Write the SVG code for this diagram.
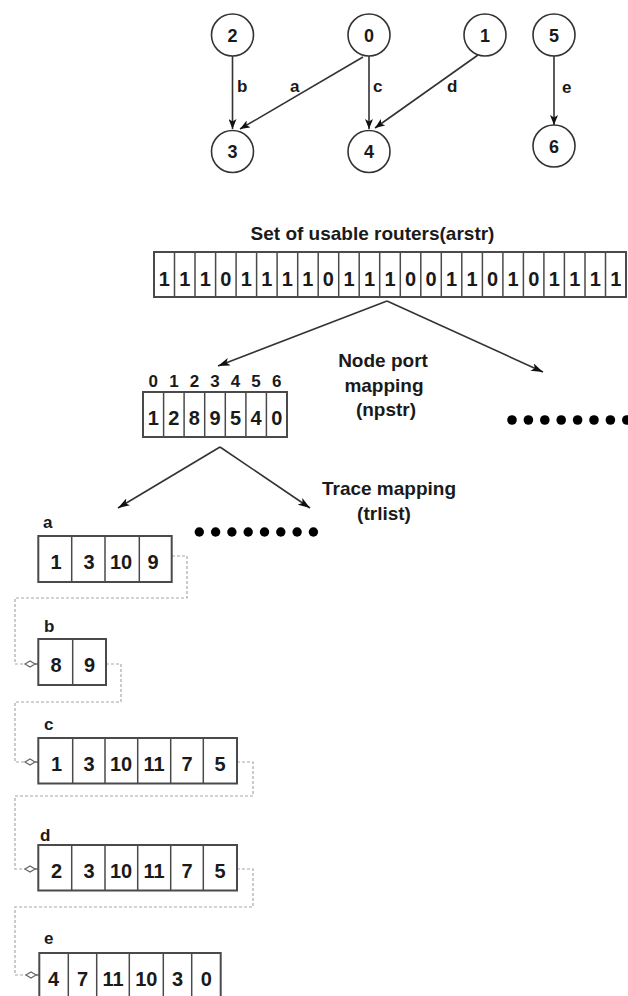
<svg xmlns="http://www.w3.org/2000/svg" width="628" height="996" viewBox="0 0 628 996">
<style>
.t{font-family:"Liberation Sans",Arial,Helvetica,sans-serif;font-weight:bold;fill:#1a1a1a}
.m{text-anchor:middle}
.nd{fill:#fff;stroke:#333;stroke-width:1.6}
.edge{fill:none;stroke:#333;stroke-width:1.6}
.box{fill:#fff;stroke:#4a4a4a;stroke-width:2}
.dv{stroke:#4a4a4a;stroke-width:1.5}
.dash{fill:none;stroke:#a8a8a8;stroke-width:1.2;stroke-dasharray:3 2}
.dot{fill:#000}
</style>
<defs>
<marker id="ah" markerUnits="userSpaceOnUse" viewBox="0 0 10 8" markerWidth="10" markerHeight="8" refX="10" refY="4" orient="auto">
<path d="M0,0 L10,4 L0,8 L2.5,4 Z" fill="#111"/>
</marker>
<marker id="ah2" markerUnits="userSpaceOnUse" viewBox="0 0 12 8" markerWidth="12" markerHeight="8" refX="12" refY="4" orient="auto">
<path d="M0,0 L12,4 L0,8 L3,4 Z" fill="#111"/>
</marker>
<marker id="dm" markerUnits="userSpaceOnUse" viewBox="-1 -1 15 8" markerWidth="15" markerHeight="8" refX="13" refY="3" orient="auto" overflow="visible">
<path d="M10,3 H13" stroke="#666" stroke-width="1.2" fill="none"/>
<path d="M0,3 L5,0 L10,3 L5,6 Z" fill="#fff" stroke="#666" stroke-width="1.2"/>
</marker>
</defs>

<g id="connectors">
<line class="edge" x1="232.5" y1="56" x2="232.5" y2="129" marker-end="url(#ah)"/>
<line class="edge" x1="363" y1="57" x2="240" y2="129" marker-end="url(#ah)"/>
<line class="edge" x1="369" y1="56" x2="369" y2="129" marker-end="url(#ah)"/>
<line class="edge" x1="478" y1="55" x2="375" y2="128" marker-end="url(#ah)"/>
<line class="edge" x1="554" y1="56" x2="554" y2="125" marker-end="url(#ah)"/>
<line class="edge" x1="387" y1="301" x2="218" y2="366" marker-end="url(#ah2)"/>
<line class="edge" x1="387" y1="301" x2="543" y2="372" marker-end="url(#ah2)"/>
<line class="edge" x1="220" y1="447" x2="118" y2="508" marker-end="url(#ah2)"/>
<line class="edge" x1="220" y1="447" x2="310" y2="508" marker-end="url(#ah2)"/>
<path class="dash" d="M172,556 H187 V598 H15 V664 H38" marker-end="url(#dm)"/>
<path class="dash" d="M106,664 H121 V702 H15 V762 H38" marker-end="url(#dm)"/>
<path class="dash" d="M237,762 H253 V796 H15 V869 H38" marker-end="url(#dm)"/>
<path class="dash" d="M237,869 H253 V907 H15 V975 H39" marker-end="url(#dm)"/>
<text class="t" x="237" y="92" font-size="17">b</text>
<text class="t" x="290" y="92" font-size="17">a</text>
<text class="t" x="373" y="92" font-size="17">c</text>
<text class="t" x="447" y="92" font-size="17">d</text>
<text class="t" x="562" y="93" font-size="17">e</text>
</g>

<g id="n2"><circle class="nd" cx="232.5" cy="35" r="21"/><text class="t m" x="232.5" y="41.5" font-size="18">2</text></g>
<g id="n0"><circle class="nd" cx="369" cy="35" r="21"/><text class="t m" x="369" y="41.5" font-size="18">0</text></g>
<g id="n1"><circle class="nd" cx="485" cy="35" r="21"/><text class="t m" x="485" y="41.5" font-size="18">1</text></g>
<g id="n5"><circle class="nd" cx="554" cy="35" r="21"/><text class="t m" x="554" y="41.5" font-size="18">5</text></g>
<g id="n3"><circle class="nd" cx="232.5" cy="151.5" r="21"/><text class="t m" x="232.5" y="158" font-size="18">3</text></g>
<g id="n4"><circle class="nd" cx="369" cy="151.5" r="21"/><text class="t m" x="369" y="158" font-size="18">4</text></g>
<g id="n6"><circle class="nd" cx="554" cy="146" r="21"/><text class="t m" x="554" y="152.5" font-size="18">6</text></g>

<g id="arstr">
<text class="t m" x="372.5" y="240" font-size="19">Set of usable routers(arstr)</text>
<rect class="box" x="154" y="252" width="472" height="45"/>
<g class="dv">
<line x1="174.5" y1="252" x2="174.5" y2="297"/><line x1="195" y1="252" x2="195" y2="297"/><line x1="215.6" y1="252" x2="215.6" y2="297"/><line x1="236.1" y1="252" x2="236.1" y2="297"/><line x1="256.6" y1="252" x2="256.6" y2="297"/><line x1="277.1" y1="252" x2="277.1" y2="297"/><line x1="297.7" y1="252" x2="297.7" y2="297"/><line x1="318.2" y1="252" x2="318.2" y2="297"/><line x1="338.7" y1="252" x2="338.7" y2="297"/><line x1="359.2" y1="252" x2="359.2" y2="297"/><line x1="379.7" y1="252" x2="379.7" y2="297"/><line x1="400.3" y1="252" x2="400.3" y2="297"/><line x1="420.8" y1="252" x2="420.8" y2="297"/><line x1="441.3" y1="252" x2="441.3" y2="297"/><line x1="461.8" y1="252" x2="461.8" y2="297"/><line x1="482.4" y1="252" x2="482.4" y2="297"/><line x1="502.9" y1="252" x2="502.9" y2="297"/><line x1="523.4" y1="252" x2="523.4" y2="297"/><line x1="543.9" y1="252" x2="543.9" y2="297"/><line x1="564.4" y1="252" x2="564.4" y2="297"/><line x1="585" y1="252" x2="585" y2="297"/><line x1="605.5" y1="252" x2="605.5" y2="297"/>
</g>
<g class="t m" font-size="20">
<text x="164.3" y="286">1</text><text x="184.8" y="286">1</text><text x="205.3" y="286">1</text><text x="225.8" y="286">0</text><text x="246.3" y="286">1</text><text x="266.9" y="286">1</text><text x="287.4" y="286">1</text><text x="307.9" y="286">1</text><text x="328.4" y="286">0</text><text x="349" y="286">1</text><text x="369.5" y="286">1</text><text x="390" y="286">1</text><text x="410.5" y="286">0</text><text x="431" y="286">0</text><text x="451.6" y="286">1</text><text x="472.1" y="286">1</text><text x="492.6" y="286">0</text><text x="513.1" y="286">1</text><text x="533.7" y="286">0</text><text x="554.2" y="286">1</text><text x="574.7" y="286">1</text><text x="595.2" y="286">1</text><text x="615.7" y="286">1</text>
</g>
</g>

<g id="npstr_label" class="t m" font-size="19">
<text x="383" y="367">Node port</text>
<text x="384" y="391.5">mapping</text>
<text x="386" y="416">(npstr)</text>
</g>

<g id="dots_right">
<circle class="dot" cx="512" cy="420" r="4.8"/><circle class="dot" cx="528.4" cy="420" r="4.8"/><circle class="dot" cx="544.8" cy="420" r="4.8"/><circle class="dot" cx="561.2" cy="420" r="4.8"/><circle class="dot" cx="577.6" cy="420" r="4.8"/><circle class="dot" cx="594" cy="420" r="4.8"/><circle class="dot" cx="610.4" cy="420" r="4.8"/><circle class="dot" cx="626.8" cy="420" r="4.8"/>
</g>

<g id="npstr">
<g class="t m" font-size="17">
<text x="153.3" y="387">0</text><text x="173.9" y="387">1</text><text x="194.4" y="387">2</text><text x="215" y="387">3</text><text x="235.6" y="387">4</text><text x="256.1" y="387">5</text><text x="276.7" y="387">6</text>
</g>
<rect class="box" x="143" y="392" width="144" height="45"/>
<g class="dv">
<line x1="163.6" y1="392" x2="163.6" y2="437"/><line x1="184.1" y1="392" x2="184.1" y2="437"/><line x1="204.7" y1="392" x2="204.7" y2="437"/><line x1="225.3" y1="392" x2="225.3" y2="437"/><line x1="245.9" y1="392" x2="245.9" y2="437"/><line x1="266.4" y1="392" x2="266.4" y2="437"/>
</g>
<g class="t m" font-size="20">
<text x="153.3" y="425">1</text><text x="173.9" y="425">2</text><text x="194.4" y="425">8</text><text x="215" y="425">9</text><text x="235.6" y="425">5</text><text x="256.1" y="425">4</text><text x="276.7" y="425">0</text>
</g>
</g>

<g id="trlist_label" class="t m" font-size="19">
<text x="389" y="495">Trace mapping</text>
<text x="384" y="520">(trlist)</text>
</g>

<g id="dots_mid">
<circle class="dot" cx="199.3" cy="532" r="4.7"/><circle class="dot" cx="215.6" cy="532" r="4.7"/><circle class="dot" cx="231.9" cy="532" r="4.7"/><circle class="dot" cx="248.2" cy="532" r="4.7"/><circle class="dot" cx="264.5" cy="532" r="4.7"/><circle class="dot" cx="280.8" cy="532" r="4.7"/><circle class="dot" cx="297.1" cy="532" r="4.7"/><circle class="dot" cx="313.4" cy="532" r="4.7"/>
</g>

<g id="trace_a">
<text class="t" x="43" y="528" font-size="17">a</text>
<rect class="box" x="38.3" y="536" width="133.4" height="46"/>
<g class="dv"><line x1="71.7" y1="536" x2="71.7" y2="582"/><line x1="105" y1="536" x2="105" y2="582"/><line x1="139.3" y1="536" x2="139.3" y2="582"/></g>
<g class="t m" font-size="20"><text x="56" y="569">1</text><text x="89" y="569">3</text><text x="121" y="569">10</text><text x="153" y="569">9</text></g>
</g>

<g id="trace_b">
<text class="t" x="44" y="632" font-size="17">b</text>
<rect class="box" x="38.3" y="639" width="67.7" height="46"/>
<g class="dv"><line x1="72.7" y1="639" x2="72.7" y2="685"/></g>
<g class="t m" font-size="20"><text x="56" y="672">8</text><text x="89.5" y="672">9</text></g>
</g>

<g id="trace_c">
<text class="t" x="44" y="730" font-size="17">c</text>
<rect class="box" x="38.3" y="738" width="198.7" height="45.5"/>
<g class="dv"><line x1="72.7" y1="738" x2="72.7" y2="783.5"/><line x1="105" y1="738" x2="105" y2="783.5"/><line x1="137.7" y1="738" x2="137.7" y2="783.5"/><line x1="170.7" y1="738" x2="170.7" y2="783.5"/><line x1="203.3" y1="738" x2="203.3" y2="783.5"/></g>
<g class="t m" font-size="20"><text x="56.5" y="771">1</text><text x="89" y="771">3</text><text x="121" y="771">10</text><text x="154" y="771">11</text><text x="187" y="771">7</text><text x="220" y="771">5</text></g>
</g>

<g id="trace_d">
<text class="t" x="40" y="841" font-size="17">d</text>
<rect class="box" x="38.3" y="845" width="198.7" height="45.5"/>
<g class="dv"><line x1="71.7" y1="845" x2="71.7" y2="890.5"/><line x1="105" y1="845" x2="105" y2="890.5"/><line x1="137.7" y1="845" x2="137.7" y2="890.5"/><line x1="170.7" y1="845" x2="170.7" y2="890.5"/><line x1="203.3" y1="845" x2="203.3" y2="890.5"/></g>
<g class="t m" font-size="20"><text x="56.5" y="878">2</text><text x="89" y="878">3</text><text x="121" y="878">10</text><text x="154" y="878">11</text><text x="187" y="878">7</text><text x="220" y="878">5</text></g>
</g>

<g id="trace_e">
<text class="t" x="44" y="944" font-size="17">e</text>
<rect class="box" x="39.3" y="953" width="181.4" height="46"/>
<g class="dv"><line x1="68.3" y1="953" x2="68.3" y2="999"/><line x1="96.7" y1="953" x2="96.7" y2="999"/><line x1="129.3" y1="953" x2="129.3" y2="999"/><line x1="163.3" y1="953" x2="163.3" y2="999"/><line x1="191.7" y1="953" x2="191.7" y2="999"/></g>
<g class="t m" font-size="20"><text x="53.5" y="986">4</text><text x="82.5" y="986">7</text><text x="113" y="986">11</text><text x="146.3" y="986">10</text><text x="177.5" y="986">3</text><text x="206.2" y="986">0</text></g>
</g>
</svg>
